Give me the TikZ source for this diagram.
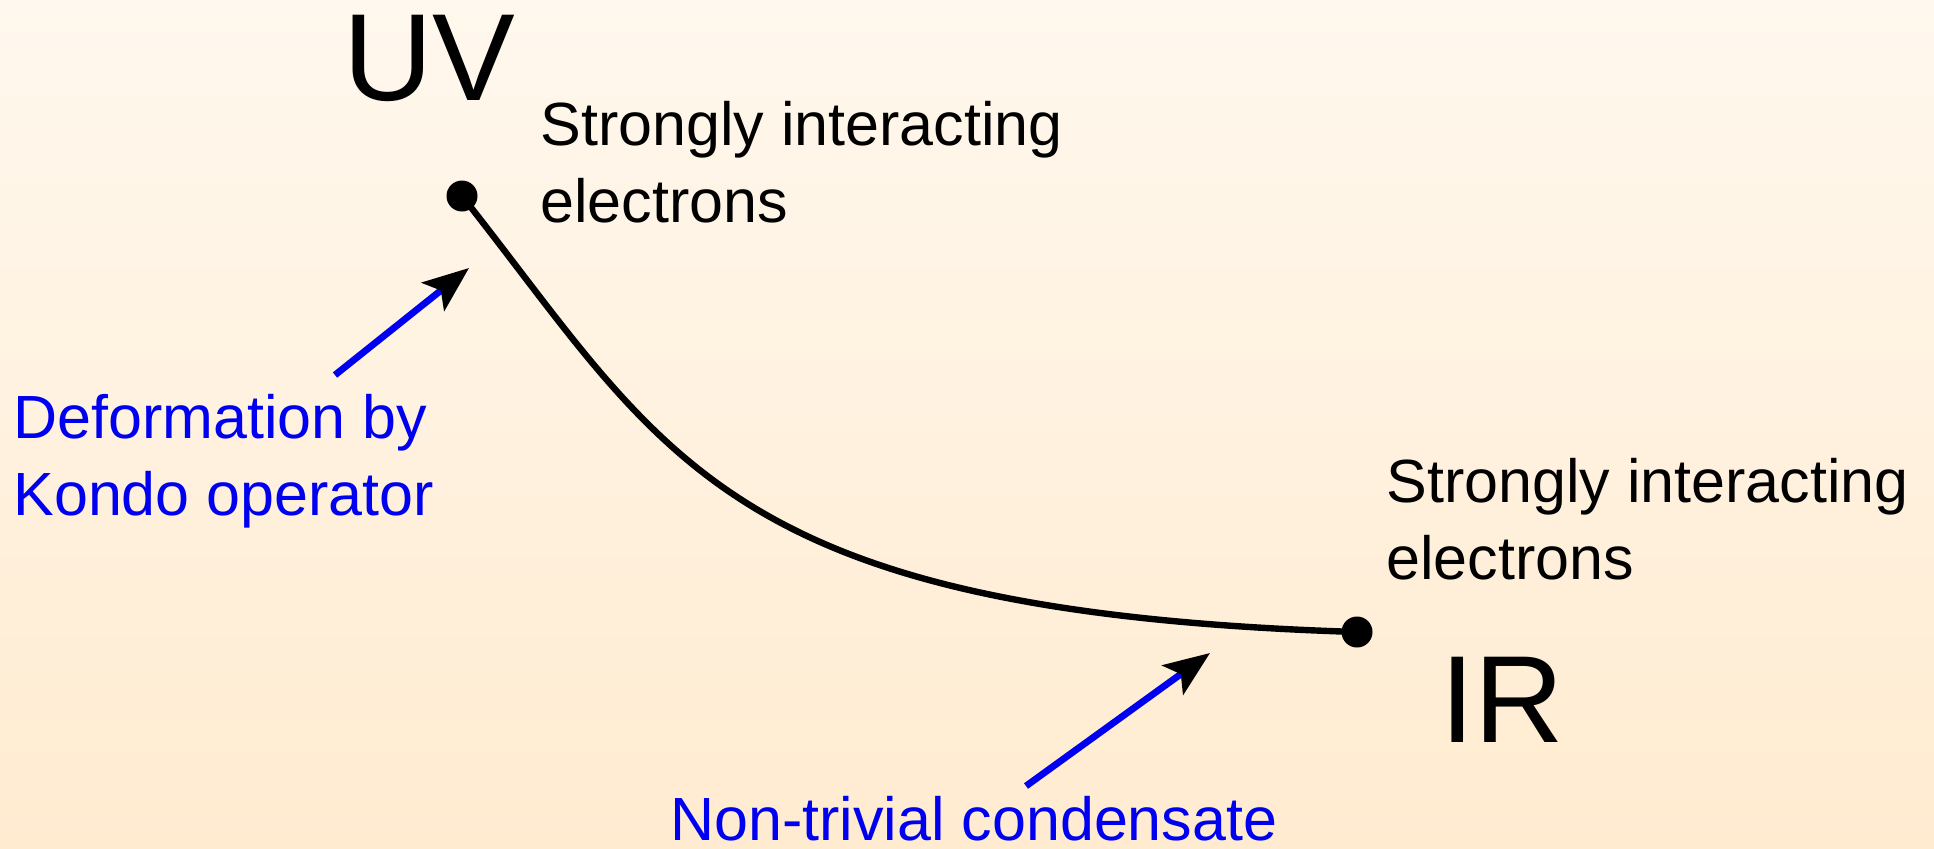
\documentclass[tikz,border=0pt]{standalone}
\usepackage{fontspec}
\setmainfont{Liberation Sans}
\usetikzlibrary{arrows.meta}
\definecolor{bgtop}{HTML}{FFF8EE}
\definecolor{bgbot}{HTML}{FFEBD0}
\definecolor{lblue}{HTML}{0000F0}
\begin{document}
\begin{tikzpicture}[x=0.5pt,y=-0.5pt,
  lbl/.style={anchor=base west,inner sep=0pt,align=left,font=\fontsize{30.5}{38.5}\selectfont},
  big/.style={anchor=base west,inner sep=0pt,font=\fontsize{62}{70}\selectfont},
  dot/.style={circle,fill=black,minimum size=15.5pt,inner sep=0pt},
  flow/.style={line width=3.2pt,black},
  pointer/.style={line width=3.4pt,lblue,-{Stealth[black,length=23pt,width=18pt,inset=5pt]}}]
\shade[top color=bgtop,bottom color=bgbot] (0,0) rectangle (1934,848);
\useasboundingbox (0,0) rectangle (1934,848);
\coordinate (uvc) at (462,196);
\coordinate (irc) at (1357,632);
\draw[flow] (uvc) .. controls (667,455) and (720,612) .. (irc);
\node[dot] (uv) at (uvc) {};
\node[dot] (ir) at (irc) {};
\node[big] (uvt) at (343,100) {UV};
\node[big] (irt) at (1440,742) {IR};
\node[lbl] (uvl) at (540,222) {Strongly interacting\\electrons};
\node[lbl] (irl) at (1386,579) {Strongly interacting\\electrons};
\node[lbl,text=lblue] (kondo) at (13,515) {Deformation by\\Kondo operator};
\node[lbl,text=lblue] (cond) at (670,840) {Non-trivial condensate};
\coordinate (kt) at (335,375);
\coordinate (kh) at (469,268);
\coordinate (ct) at (1026,786);
\coordinate (ch) at (1210,653);
\draw[pointer] (kt) -- (kh);
\draw[pointer] (ct) -- (ch);
\end{tikzpicture}
\end{document}
